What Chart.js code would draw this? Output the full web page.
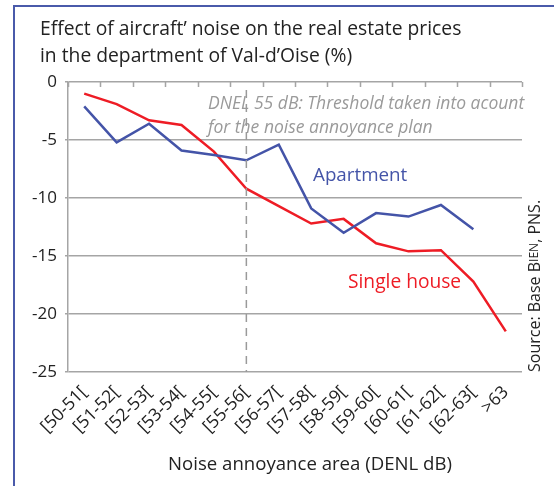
<!DOCTYPE html>
<html>
<head>
<meta charset="utf-8">
<script src="https://cdn.jsdelivr.net/npm/chart.js@4"></script>
<style>
  html, body { margin: 0; padding: 0; background: #fff; }
  #wrap { width: 554px; height: 486px; }
</style>
</head>
<body>
<div id="wrap"><canvas id="Canvas1" width="554" height="486"></canvas></div>
<script>
// categories and values
var labels = ['[50-51[', '[51-52[', '[52-53[', '[53-54[', '[54-55[', '[55-56[', '[56-57[',
              '[57-58[', '[58-59[', '[59-60[', '[60-61[', '[61-62[', '[62-63[', '>63'];
var apartment = [-2.1, -5.2, -3.6, -5.9, -6.3, -6.75, -5.4, -10.9, -13.0, -11.3, -11.6, -10.6, -12.7, null];
var singleHouse = [-1.0, -1.9, -3.3, -3.7, -6.0, -9.2, -10.7, -12.2, -11.8, -13.9, -14.6, -14.5, -17.2, -21.5];
var yTicks = [0, -5, -10, -15, -20, -25];
var thresholdIndex = 5;

var FONT = "'Open Sans', sans-serif";
var blue = '#4454a8';
var red = '#ee1c25';
var grey = '#a5a5a5';

var extras = {
    id: 'extras',
    beforeDraw: function (chart) {
        var c = chart.ctx;
        c.save();
        // frame
        c.strokeStyle = '#4a5aaa';
        c.lineWidth = 2;
        c.beginPath();
        c.moveTo(554, 6);
        c.lineTo(14, 6);
        c.lineTo(14, 486);
        c.stroke();
        // title
        c.fillStyle = '#222';
        c.font = '19.3px ' + FONT;
        c.textBaseline = 'middle';
        c.textAlign = 'left';
        c.fillText('Effect of aircraft\u2019 noise on the real estate prices', 40, 30);
        c.fillText('in the department of Val-d\u2019Oise (%)', 40, 57);
        c.restore();
    },
    afterDatasetsDraw: function (chart) {
        var c = chart.ctx;
        var area = chart.chartArea;
        var xs = chart.scales.x;
        var y0 = chart.scales.y.getPixelForValue(0);
        c.save();
        // small category ticks hanging under the 0 line
        c.strokeStyle = grey;
        c.lineWidth = 1.5;
        c.beginPath();
        for (var i = 0; i <= labels.length; i++) {
            var tx = Math.round(xs.getPixelForValue(i - 0.5)) + 0.5;
            c.moveTo(tx, y0);
            c.lineTo(tx, y0 + 5);
        }
        c.stroke();
        // threshold line
        var x = xs.getPixelForValue(thresholdIndex);
        c.strokeStyle = '#9a9a9a';
        c.setLineDash([8, 6]);
        c.beginPath();
        c.moveTo(x, area.top + 8);
        c.lineTo(x, area.bottom);
        c.stroke();
        c.setLineDash([]);
        // threshold note
        c.fillStyle = '#9a9a9a';
        c.font = 'italic 17.5px ' + FONT;
        c.textBaseline = 'middle';
        c.textAlign = 'left';
        c.fillText('DNEL 55 dB: Threshold taken into acount', 208, 104);
        c.fillText('for the noise annoyance plan', 208, 128);
        // series labels
        c.font = '18.8px ' + FONT;
        c.fillStyle = blue;
        c.fillText('Apartment', 313, 176);
        c.font = '19.2px ' + FONT;
        c.fillStyle = red;
        c.fillText('Single house', 348, 283);
        // axis title
        c.fillStyle = '#222';
        c.font = '18.6px ' + FONT;
        c.textAlign = 'center';
        c.fillText('Noise annoyance area (DENL dB)', 310, 465);
        // source
        c.translate(535, 372);
        c.rotate(-Math.PI / 2);
        c.textAlign = 'left';
        c.fillStyle = '#222';
        var parts = [['Source: Base B', 16], ['IEN', 12], [', PNS.', 16]];
        var px = 0;
        parts.forEach(function (p) {
            c.font = p[1] + 'px ' + FONT;
            c.fillText(p[0], px, 0);
            px += c.measureText(p[0]).width;
        });
        c.restore();
    }
};

var GKChart = document.getElementById('Canvas1').getContext('2d');

var myChart = new Chart(GKChart, {
    type: 'line',
    data: {
        labels: labels,
        datasets: [{
            label: 'Apartment',
            data: apartment,
            borderColor: blue,
            backgroundColor: blue,
            borderWidth: 2.5,
            pointRadius: 0,
            tension: 0,
            fill: false
        }, {
            label: 'Single house',
            data: singleHouse,
            borderColor: red,
            backgroundColor: red,
            borderWidth: 2.5,
            pointRadius: 0,
            tension: 0,
            fill: false
        }]
    },
    options: {
        responsive: false,
        animation: false,
        layout: { padding: { top: 82, right: 32, left: 0, bottom: 0 } },
        plugins: {
            legend: { display: false },
            tooltip: { enabled: false }
        },
        scales: {
            x: {
                offset: true,
                grid: { display: false },
                border: { display: false },
                ticks: {
                    minRotation: 45,
                    maxRotation: 45,
                    autoSkip: false,
                    padding: 2,
                    color: '#222',
                    font: { family: FONT, size: 17.5 }
                },
                afterFit: function (s) { s.height = 114; }
            },
            y: {
                min: -25,
                max: 0,
                afterBuildTicks: function (s) {
                    s.ticks = yTicks.map(function (v) { return { value: v }; });
                },
                grid: { color: grey, lineWidth: 1.5, tickLength: 3 },
                border: { display: true, color: grey, width: 1.5 },
                ticks: {
                    padding: 8,
                    color: '#222',
                    font: { family: FONT, size: 17 }
                },
                afterFit: function (s) { s.width = 68; }
            }
        }
    },
    plugins: [extras]
});
</script>
</body>
</html>
